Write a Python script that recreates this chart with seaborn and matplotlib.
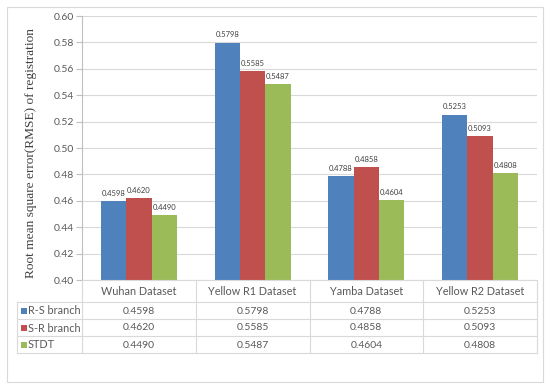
import matplotlib
matplotlib.use("Agg")
import matplotlib.pyplot as plt
import seaborn as sns
import pandas as pd
from matplotlib.patches import Rectangle
from matplotlib.lines import Line2D

categories = ["Wuhan Dataset", "Yellow R1 Dataset", "Yamba Dataset", "Yellow R2 Dataset"]
series_names = ["R-S branch", "S-R branch", "STDT"]
rs_branch = [0.4598, 0.5798, 0.4788, 0.5253]
sr_branch = [0.4620, 0.5585, 0.4858, 0.5093]
stdt = [0.4490, 0.5487, 0.4604, 0.4808]
yticks = [0.40, 0.42, 0.44, 0.46, 0.48, 0.50, 0.52, 0.54, 0.56, 0.58, 0.60]
colors = ["#4F81BD", "#C0504D", "#9BBB59"]

series_values = [rs_branch, sr_branch, stdt]
rows = []
for name, vals in zip(series_names, series_values):
    for c, v in zip(categories, vals):
        rows.append({"Dataset": c, "Method": name, "RMSE": v})
df = pd.DataFrame(rows)

sns.set_theme(style="white")
plt.rcParams["font.family"] = ["Lato", "DejaVu Sans"]

W, H = 550, 389
fig = plt.figure(figsize=(W / 100, H / 100), dpi=100)

def fx(px):
    return px / W

def fy(py):
    return 1 - py / H

# outer border
fig.add_artist(Rectangle((fx(7), fy(382)), fx(536), 375 / H, transform=fig.transFigure,
                         fill=False, edgecolor="#D9D9D9", linewidth=0.8))

ax_l, ax_r, ax_t, ax_b = 82, 537, 16, 280
ax = fig.add_axes([fx(ax_l), fy(ax_b), fx(ax_r - ax_l), (ax_b - ax_t) / H])

sns.barplot(data=df, x="Dataset", y="RMSE", hue="Method", order=categories,
            hue_order=series_names, palette=colors, saturation=1, width=0.67,
            linewidth=0, ax=ax, legend=False)

ax.set_ylim(0.40, 0.60)
ax.set_xlim(-0.5, 3.5)
ax.set_yticks(yticks)
ax.set_yticklabels([f"{t:.2f}" for t in yticks])
ax.yaxis.grid(True, color="#D9D9D9", linewidth=0.8)
ax.set_axisbelow(True)
for s in ["top", "right", "bottom"]:
    ax.spines[s].set_visible(False)
ax.spines["left"].set_color("#BFBFBF")
ax.spines["left"].set_linewidth(0.8)
ax.tick_params(axis="y", which="both", left=True, length=4, width=0.8, color="#BFBFBF",
               labelsize=7.5, labelcolor="#595959", pad=2)
ax.set_xticks([])
ax.set_xlabel("")
ax.set_ylabel("Root mean square error(RMSE) of registration", family=["Liberation Serif"],
              fontsize=9.6, color="#404040")
ax.yaxis.set_label_coords(-0.098, 0.48)

for cont in ax.containers:
    ax.bar_label(cont, fmt="%.4f", padding=3, fontsize=5.5, color="#404040")

# data table
tab_l, tab_r = 17, 537
head_t, head_b = 280, 302
row_edges = [302, 319, 336, 353]
unit = (ax_r - ax_l) / 4.0
col_edges = [ax_l + i * unit for i in range(5)]
line_c = "#D9D9D9"

def hline(x0, x1, y):
    fig.add_artist(Line2D([fx(x0), fx(x1)], [fy(y), fy(y)], color=line_c, linewidth=0.8,
                          transform=fig.transFigure))

def vline(x, y0, y1):
    fig.add_artist(Line2D([fx(x), fx(x)], [fy(y0), fy(y1)], color=line_c, linewidth=0.8,
                          transform=fig.transFigure))

hline(ax_l, tab_r, head_t)
for y in row_edges:
    hline(tab_l, tab_r, y)
for x in col_edges:
    vline(x, head_t, row_edges[-1])
vline(tab_l, row_edges[0], row_edges[-1])

for i, c in enumerate(categories):
    cx = (col_edges[i] + col_edges[i + 1]) / 2
    fig.text(fx(cx), fy((head_t + head_b) / 2 + 0.5), c, ha="center", va="center",
             fontsize=7.8, color="#595959")

for r, (name, vals, col) in enumerate(zip(series_names, series_values, colors)):
    cy = (row_edges[r] + row_edges[r + 1]) / 2
    fig.add_artist(Rectangle((fx(20.5), fy(cy + 3)), fx(6), 6 / H, transform=fig.transFigure,
                             facecolor=col, edgecolor="none"))
    fig.text(fx(28), fy(cy + 0.5), name, ha="left", va="center", fontsize=7.8, color="#595959")
    for i, v in enumerate(vals):
        cx = (col_edges[i] + col_edges[i + 1]) / 2
        fig.text(fx(cx), fy(cy + 0.5), f"{v:.4f}", ha="center", va="center",
                 fontsize=7.5, color="#595959")

fig.savefig("out.png", dpi=100, facecolor="white")
